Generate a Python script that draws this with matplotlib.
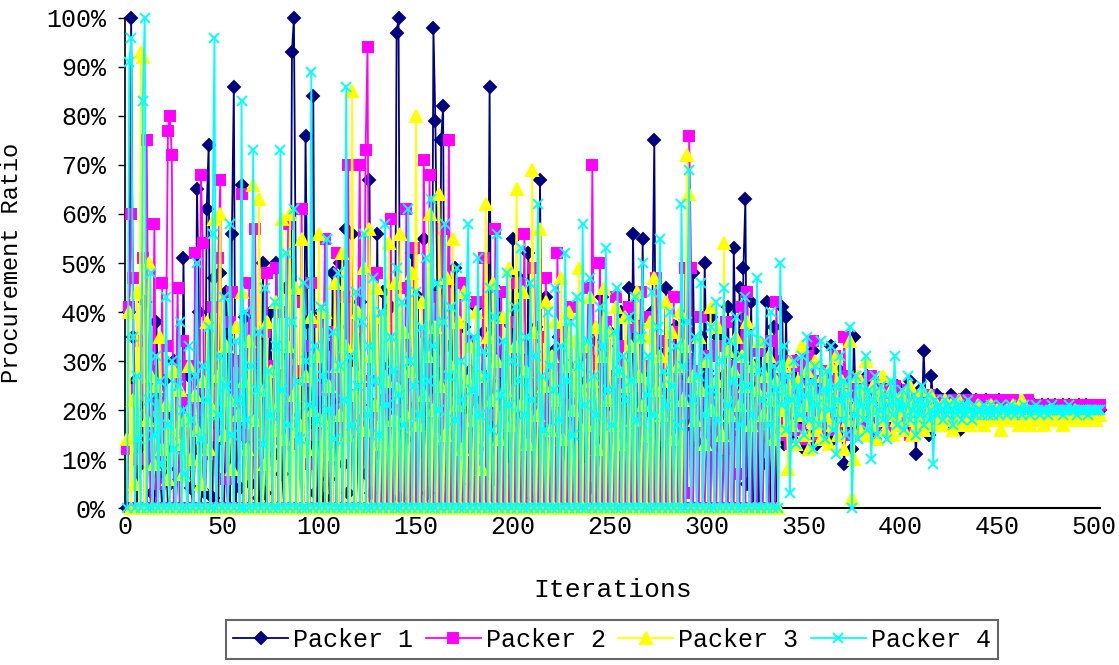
import numpy as np
import matplotlib
matplotlib.use("Agg")
import matplotlib.pyplot as plt
from matplotlib.ticker import PercentFormatter

# procurement ratio (%) per iteration
p1 = [0, 40, 100, 35, 26, 0, 21, 9, 13, 42, 0, 18, 28, 3, 0, 38, 22, 7, 0, 26,
      12, 0, 5, 19, 30, 0, 8, 23, 0, 51, 14, 0, 27, 4, 0, 12, 65, 40, 0, 22,
      3, 61, 74, 0, 2, 47, 26, 0, 48, 14, 0, 44, 31, 0, 56, 86, 0, 17, 4, 66,
      0, 39, 14, 0, 5, 29, 0, 35, 2, 0, 50, 3, 0, 28, 40, 0, 11, 50, 0, 27,
      7, 0, 45, 31, 0, 93, 100, 44, 0, 19, 26, 0, 76, 38, 0, 14, 84, 3, 0, 26,
      40, 0, 2, 33, 6, 0, 48, 21, 0, 37, 50, 0, 9, 57, 3, 0, 56, 30, 0, 14,
      42, 0, 26, 7, 0, 67, 3, 21, 0, 56, 12, 0, 44, 5, 0, 29, 41, 0, 8, 97,
      100, 2, 0, 35, 14, 0, 28, 52, 0, 21, 43, 0, 10, 55, 0, 3, 37, 0, 98, 79,
      44, 0, 75, 82, 0, 33, 14, 0, 46, 49, 0, 23, 8, 0, 37, 19, 0, 28, 5, 0,
      41, 12, 0, 22, 36, 0, 17, 86, 0, 31, 6, 0, 44, 26, 0, 15, 38, 0, 9, 55,
      0, 28, 47, 0, 12, 30, 0, 52, 21, 0, 2, 37, 0, 67, 17, 0, 43, 9, 0, 24,
      32, 0, 13, 35, 0, 21, 5, 0, 29, 21, 21, 20, 0, 18, 31, 0, 12, 26, 0, 4,
      34, 0, 17, 29, 0, 43, 8, 0, 21, 36, 0, 12, 25, 0, 33, 40, 0, 22, 15, 45,
      0, 56, 27, 0, 37, 12, 55, 0, 20, 28, 0, 40, 75, 0, 32, 11, 0, 24, 45, 0,
      18, 31, 0, 37, 6, 0, 26, 39, 0, 17, 29, 0, 48, 22, 0, 13, 35, 0, 50, 28,
      0, 39, 16, 0, 24, 35, 0, 12, 27, 0, 41, 20, 0, 53, 31, 0, 45, 18, 49, 63,
      5, 22, 42, 0, 29, 18, 0, 33, 9, 21, 42, 14, 0, 26, 37, 0, 19, 30, 41, 13,
      39, 17, 25, 14, 22, 30, 18, 16, 24, 12, 21, 27, 15, 23, 32, 19, 13, 25, 20, 17,
      27, 16, 22, 33, 14, 19, 25, 18, 28, 15, 9, 21, 26, 17, 12, 35, 20, 16, 24, 19,
      22, 18, 27, 15, 25, 20, 14, 23, 19, 26, 17, 21, 24, 15, 22, 18, 20, 25, 17, 21,
      19, 23, 16, 22, 26, 18, 21, 11, 20, 24, 17, 32, 22, 19, 15, 27, 21, 18, 23, 20,
      19, 22, 17, 21, 20, 23, 18, 21, 19, 22, 16, 21, 20, 23, 18, 20, 21, 19, 22, 20,
      21, 19, 20, 22, 18, 21, 20, 19, 21, 20, 22, 19, 20, 21, 19, 20, 21, 20, 19, 21,
      20, 21, 19, 20, 21, 20, 19, 20, 21, 20, 20, 19, 21, 20, 20, 21, 19, 20, 20, 21,
      20, 20, 19, 21, 20, 20, 21, 20, 20, 19, 20, 21, 20, 20, 20, 21, 20, 20, 20, 20,
      20, 20, 20]

p2 = [12, 41, 60, 47, 0, 24, 10, 34, 51, 0, 75, 28, 0, 16, 58, 0, 21, 5, 46, 0,
      33, 77, 80, 72, 0, 19, 45, 0, 8, 34, 22, 0, 14, 29, 0, 52, 20, 0, 68, 54,
      0, 11, 23, 0, 41, 15, 0, 51, 67, 0, 22, 6, 0, 38, 44, 0, 18, 30, 0, 64,
      15, 0, 27, 46, 0, 12, 57, 0, 24, 9, 0, 36, 48, 0, 19, 29, 0, 49, 14, 0,
      40, 22, 0, 58, 13, 0, 42, 28, 0, 17, 61, 0, 33, 9, 0, 46, 26, 0, 15, 38,
      0, 24, 55, 0, 10, 36, 0, 20, 52, 0, 31, 15, 0, 43, 70, 0, 23, 18, 0, 37,
      70, 0, 13, 73, 94, 0, 26, 19, 0, 48, 11, 0, 39, 22, 0, 15, 59, 0, 27, 8,
      0, 45, 20, 0, 61, 33, 0, 17, 53, 0, 24, 9, 0, 71, 36, 0, 68, 22, 0, 43,
      14, 0, 30, 57, 0, 21, 75, 0, 11, 38, 0, 25, 46, 0, 18, 9, 0, 34, 22, 0,
      42, 15, 0, 27, 51, 0, 19, 33, 0, 12, 57, 0, 28, 44, 0, 21, 8, 0, 38, 24,
      0, 46, 17, 0, 30, 56, 0, 22, 13, 0, 49, 26, 0, 18, 35, 0, 47, 25, 0, 12,
      29, 0, 52, 17, 0, 36, 21, 0, 14, 41, 0, 27, 19, 0, 32, 8, 0, 24, 45, 0,
      70, 16, 0, 30, 50, 0, 22, 38, 0, 13, 27, 0, 43, 19, 0, 33, 24, 0, 16, 41,
      0, 25, 37, 0, 18, 44, 0, 29, 12, 0, 39, 22, 0, 47, 27, 0, 15, 34, 0, 21,
      30, 0, 43, 18, 0, 36, 25, 0, 49, 3, 76, 49, 0, 28, 17, 0, 39, 22, 0, 14,
      31, 0, 26, 18, 0, 33, 21, 0, 12, 38, 0, 24, 16, 0, 29, 7, 0, 41, 23, 0,
      44, 18, 0, 27, 14, 0, 32, 20, 0, 25, 16, 0, 34, 22, 0, 42, 19, 26, 15, 22,
      18, 27, 13, 30, 21, 24, 16, 29, 20, 25, 14, 31, 22, 18, 34, 19, 26, 15, 23, 20,
      28, 17, 22, 26, 19, 31, 16, 24, 21, 18, 35, 22, 27, 15, 20, 25, 18, 23, 21, 26,
      19, 24, 17, 22, 27, 20, 16, 23, 25, 18, 21, 24, 19, 16, 22, 20, 25, 18, 21, 23,
      17, 22, 20, 24, 15, 21, 19, 23, 20, 18, 22, 16, 21, 20, 23, 19, 22, 18, 20, 21,
      21, 19, 22, 20, 18, 21, 22, 19, 20, 21, 19, 22, 20, 18, 21, 20, 22, 19, 21, 20,
      20, 21, 22, 20, 19, 21, 20, 22, 21, 20, 19, 21, 22, 20, 21, 20, 21, 22, 20, 21,
      21, 20, 21, 21, 20, 22, 21, 20, 21, 21, 20, 21, 21, 20, 21, 21, 20, 21, 21, 20,
      21, 21, 20, 21, 21, 21, 20, 21, 21, 21, 20, 21, 21, 20, 21, 21, 21, 20, 21, 21,
      21, 20, 21]

p3 = [14, 40, 0, 22, 5, 44, 0, 93, 92, 0, 18, 50, 27, 0, 9, 25, 0, 35, 12, 0,
      21, 6, 0, 16, 28, 0, 13, 24, 0, 7, 18, 0, 29, 10, 0, 23, 16, 0, 5, 26,
      0, 38, 12, 0, 20, 59, 0, 27, 60, 0, 15, 33, 0, 22, 8, 0, 37, 19, 0, 44,
      26, 0, 12, 34, 0, 66, 18, 0, 63, 24, 0, 9, 38, 0, 28, 16, 0, 42, 21, 0,
      59, 14, 0, 33, 60, 0, 23, 45, 0, 17, 55, 0, 27, 12, 0, 39, 20, 0, 31, 56,
      0, 18, 40, 0, 25, 11, 0, 46, 29, 0, 19, 52, 0, 33, 15, 0, 85, 23, 0, 40,
      27, 0, 49, 16, 0, 57, 31, 0, 21, 45, 0, 13, 39, 0, 26, 54, 0, 18, 46, 0,
      24, 56, 0, 36, 19, 0, 28, 48, 0, 80, 17, 0, 42, 23, 0, 31, 60, 0, 20, 37,
      0, 64, 25, 0, 15, 47, 0, 29, 55, 0, 21, 38, 0, 12, 44, 0, 26, 33, 0, 18,
      40, 0, 27, 8, 0, 62, 35, 0, 22, 46, 0, 30, 14, 0, 39, 24, 0, 49, 17, 0,
      33, 65, 0, 21, 44, 0, 28, 13, 0, 69, 36, 0, 19, 57, 0, 25, 42, 0, 16, 31,
      0, 38, 22, 0, 47, 14, 0, 29, 40, 0, 20, 34, 0, 49, 24, 0, 33, 17, 0, 43,
      26, 0, 37, 12, 0, 31, 45, 0, 22, 36, 0, 17, 41, 0, 28, 13, 0, 39, 25, 0,
      33, 18, 0, 44, 27, 0, 21, 35, 0, 15, 38, 0, 47, 24, 0, 31, 19, 0, 42, 26,
      0, 36, 14, 0, 29, 40, 0, 22, 33, 72, 64, 0, 27, 18, 0, 35, 24, 0, 13, 30,
      0, 41, 20, 0, 26, 37, 0, 15, 54, 0, 32, 19, 0, 28, 35, 0, 21, 31, 0, 25,
      38, 0, 17, 29, 0, 24, 34, 0, 19, 27, 0, 31, 22, 0, 14, 26, 0, 20, 29, 16,
      24, 8, 30, 17, 22, 13, 26, 19, 33, 15, 21, 28, 12, 24, 18, 30, 16, 22, 14, 27,
      19, 25, 13, 29, 17, 22, 31, 15, 20, 26, 12, 23, 18, 34, 2, 10, 21, 27, 16, 24,
      19, 30, 15, 22, 17, 25, 20, 14, 23, 18, 27, 16, 21, 19, 24, 15, 22, 18, 20, 17,
      23, 16, 21, 18, 25, 15, 20, 22, 17, 19, 24, 16, 21, 18, 20, 23, 17, 19, 21, 18,
      20, 17, 22, 18, 19, 21, 16, 20, 18, 22, 17, 19, 20, 18, 21, 17, 19, 20, 18, 21,
      18, 19, 17, 20, 18, 19, 21, 18, 19, 20, 18, 16, 19, 18, 20, 19, 18, 21, 19, 18,
      17, 19, 22, 18, 19, 18, 17, 19, 18, 20, 18, 19, 18, 17, 19, 18, 20, 19, 18, 19,
      18, 19, 18, 17, 19, 18, 19, 18, 19, 20, 18, 19, 18, 18, 19, 18, 19, 19, 18, 19,
      18, 19, 19]

p4 = [0, 91, 96, 35, 0, 27, 14, 0, 83, 100, 0, 22, 48, 0, 15, 31, 0, 26, 9, 0,
      43, 17, 0, 30, 12, 0, 25, 38, 0, 20, 7, 0, 33, 18, 0, 27, 50, 0, 14, 29,
      0, 22, 37, 0, 56, 96, 0, 19, 31, 0, 43, 25, 0, 58, 15, 0, 34, 22, 0, 83,
      0, 40, 18, 0, 29, 73, 0, 24, 36, 0, 13, 45, 0, 28, 19, 0, 42, 33, 0, 73,
      24, 0, 52, 17, 0, 38, 61, 0, 26, 14, 0, 46, 30, 0, 21, 89, 0, 33, 18, 0,
      41, 27, 0, 55, 20, 0, 36, 14, 0, 48, 29, 0, 22, 86, 0, 31, 17, 0, 44, 25,
      0, 38, 56, 0, 19, 33, 0, 47, 26, 0, 15, 40, 0, 58, 21, 0, 35, 28, 0, 49,
      23, 0, 42, 17, 0, 61, 30, 0, 25, 44, 0, 19, 37, 0, 51, 26, 0, 63, 33, 0,
      46, 20, 0, 38, 58, 0, 27, 41, 0, 18, 49, 0, 30, 22, 0, 43, 58, 0, 24, 35,
      0, 51, 19, 0, 32, 27, 0, 45, 16, 0, 39, 56, 0, 23, 34, 0, 48, 21, 0, 30,
      41, 0, 26, 53, 0, 19, 35, 0, 46, 22, 0, 31, 62, 0, 27, 16, 0, 40, 29, 0,
      24, 45, 0, 18, 33, 0, 52, 26, 0, 38, 15, 0, 43, 29, 0, 58, 21, 0, 34, 47,
      0, 27, 19, 0, 41, 33, 0, 53, 24, 0, 17, 36, 0, 45, 28, 0, 31, 22, 0, 39,
      26, 0, 43, 18, 0, 35, 50, 0, 23, 31, 0, 44, 19, 0, 37, 55, 0, 28, 21, 0,
      40, 25, 0, 33, 17, 0, 62, 29, 0, 38, 69, 0, 22, 35, 0, 27, 46, 0, 19, 31,
      0, 37, 24, 0, 42, 18, 0, 30, 45, 0, 21, 34, 0, 26, 39, 0, 17, 31, 0, 43,
      25, 0, 36, 19, 0, 47, 28, 0, 22, 34, 0, 17, 40, 0, 29, 24, 0, 50, 21, 33,
      16, 27, 3, 22, 30, 13, 25, 19, 31, 15, 23, 35, 18, 26, 12, 29, 21, 17, 34, 24,
      14, 28, 20, 33, 16, 25, 11, 22, 31, 18, 26, 15, 23, 37, 0, 19, 27, 14, 25, 21,
      18, 31, 16, 24, 10, 22, 27, 15, 20, 25, 18, 23, 14, 21, 26, 19, 31, 17, 22, 20,
      24, 16, 21, 27, 18, 20, 23, 15, 22, 19, 25, 17, 21, 23, 18, 20, 9, 22, 19, 21,
      20, 18, 22, 19, 21, 20, 17, 22, 19, 21, 20, 18, 21, 19, 22, 20, 18, 21, 19, 20,
      20, 19, 21, 20, 19, 20, 21, 19, 20, 20, 19, 21, 20, 20, 19, 20, 21, 20, 19, 20,
      20, 20, 19, 21, 20, 20, 19, 20, 20, 21, 20, 19, 20, 20, 20, 19, 20, 21, 20, 20,
      20, 20, 20, 19, 20, 20, 21, 20, 20, 20, 19, 20, 20, 20, 20, 20, 19, 20, 20, 20,
      20, 20, 20]

names = ["Packer 1", "Packer 2", "Packer 3", "Packer 4"]
colors = ["#000080", "#FF00FF", "#FFFF00", "#00FFFF"]
markers = ["D", "s", "^", "x"]
msizes = [6.5, 7.5, 8, 7]

plt.rcParams['font.family'] = ['Liberation Mono', 'DejaVu Sans Mono']

fig = plt.figure(figsize=(11.19, 6.65), dpi=100)
ax = fig.add_axes([0.112, 0.236, 0.871, 0.737])

for vals, nm, c, m, ms in zip([p1, p2, p3, p4], names, colors, markers, msizes):
    x = np.arange(1, len(vals) + 1)
    ax.plot(x, np.array(vals) / 100.0, color=c, marker=m, markersize=ms,
            markeredgewidth=1.4, linewidth=1.3, label=nm, clip_on=False,
            zorder=3)

ax.set_xlim(0, 503)
ax.set_ylim(0, 1)
ax.set_xticks(np.arange(0, 501, 50))
ax.set_yticks(np.arange(0, 1.01, 0.1))
ax.yaxis.set_major_formatter(PercentFormatter(1.0, decimals=0))
ax.tick_params(axis='y', direction='out', length=5, width=1, labelsize=18, pad=9)
ax.tick_params(axis='x', length=0, labelsize=18, pad=5)
for s in ['top', 'right']:
    ax.spines[s].set_visible(False)
ax.spines['left'].set_linewidth(1.2)
ax.spines['bottom'].set_linewidth(1.5)

ax.set_xlabel("Iterations", fontsize=19, labelpad=28)
ax.set_ylabel("Procurement Ratio", fontsize=17)
ax.yaxis.set_label_coords(-0.105, 0.5)

leg = fig.legend(loc='center', bbox_to_anchor=(0.547, 0.038), ncol=4,
                 fontsize=18, frameon=True, fancybox=False, handlelength=2.2,
                 handletextpad=0.2, columnspacing=0.5, borderpad=0.3)
leg.get_frame().set_edgecolor('#404040')
leg.get_frame().set_linewidth(1.5)

fig.savefig("out.png", dpi=100)
